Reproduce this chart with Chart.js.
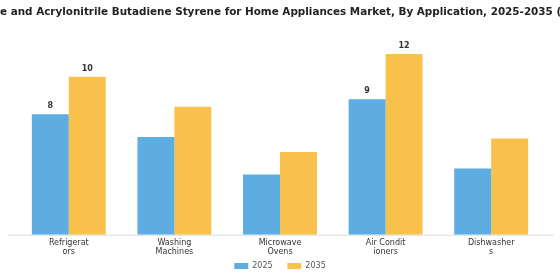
<!DOCTYPE html>
<html>
<head>
<meta charset="utf-8">
<title>Home Appliances Market</title>
<script src="https://cdn.jsdelivr.net/npm/chart.js@4.4.0/dist/chart.umd.min.js"></script>
<style>
	html, body { margin: 0; padding: 0; background: #ffffff; }
	#wrap { width: 560px; height: 280px; }
</style>
</head>
<body>
<div id="wrap"><canvas id="myChart"></canvas></div>
<script>
// dane
const chartTitle = 'Polycarbonate and Acrylonitrile Butadiene Styrene for Home Appliances Market, By Application, 2025-2035 (USD Billion)';
const categories = [['Refrigerat', 'ors'], ['Washing', 'Machines'], ['Microwave', 'Ovens'], ['Air Condit', 'ioners'], ['Dishwasher', 's']];
const values2025 = [8.0, 6.5, 4.0, 9.0, 4.4];
const values2035 = [10.5, 8.5, 5.5, 12.0, 6.4];
const labels2025 = ['8', null, null, '9', null];
const labels2035 = ['10', null, null, '12', null];

// tytuł rysowany ręcznie (wbudowany tytuł ściska tekst do szerokości),
// wychodzi poza lewą i prawą krawędź jak w oryginale
const overflowTitle = {
	id: 'overflowTitle',
	afterDraw(chart) {
		const ctx = chart.ctx;
		ctx.save();
		ctx.font = 'bold 10.4px "DejaVu Sans"';
		ctx.fillStyle = '#222222';
		ctx.textAlign = 'left';
		ctx.textBaseline = 'middle';
		const cut = ctx.measureText('Polycarbonat').width;
		ctx.fillText(chartTitle, -cut, 12);
		ctx.restore();
	}
};

// linia osi X, trochę szersza niż obszar wykresu
const baseLine = {
	id: 'baseLine',
	beforeDatasetsDraw(chart) {
		const ctx = chart.ctx;
		const y = chart.chartArea.bottom + 0.5;
		ctx.save();
		ctx.strokeStyle = '#dddddd';
		ctx.lineWidth = 1;
		ctx.beginPath();
		ctx.moveTo(8, y);
		ctx.lineTo(chart.width - 6, y);
		ctx.stroke();
		ctx.restore();
	}
};

// etykiety wartości nad wybranymi słupkami
const valueLabels = {
	id: 'valueLabels',
	afterDatasetsDraw(chart) {
		const ctx = chart.ctx;
		const sets = [labels2025, labels2035];
		ctx.save();
		ctx.font = 'bold 8px "DejaVu Sans"';
		ctx.fillStyle = '#333333';
		ctx.textAlign = 'center';
		ctx.textBaseline = 'bottom';
		sets.forEach((lbls, d) => {
			chart.getDatasetMeta(d).data.forEach((bar, i) => {
				if (lbls[i] == null) return;
				ctx.fillText(lbls[i], bar.x, bar.y - 4);
			});
		});
		ctx.restore();
	}
};

var ctx = document.getElementById('myChart').getContext('2d');
var chart = new Chart(ctx, {
	type: 'bar',
	data: {
		labels: categories,
		datasets: [{
			label: '2025',
			data: values2025,
			backgroundColor: '#5DADE2'
		}, {
			label: '2035',
			data: values2035,
			backgroundColor: '#F7C14B'
		}]
	},
	options: {
		responsive: true,
		maintainAspectRatio: false,
		animation: false,
		layout: { padding: { left: 16, right: 16, top: 24, bottom: 0 } },
		datasets: { bar: { categoryPercentage: 0.7, barPercentage: 1.0 } },
		plugins: {
			title: { display: false },
			legend: {
				position: 'bottom',
				labels: {
					boxWidth: 14,
					boxHeight: 6,
					font: { family: '"DejaVu Sans"', size: 8 },
					color: '#555555',
					padding: 2,
					// większy odstęp między pozycjami legendy
					generateLabels(chart) {
						const items = Chart.defaults.plugins.legend.labels.generateLabels(chart);
						items[0].text = items[0].text + '     ';
						return items;
					}
				}
			},
			tooltip: { enabled: false }
		},
		scales: {
			x: {
				grid: { display: false, drawTicks: false },
				border: { display: false },
				ticks: {
					font: { family: '"DejaVu Sans"', size: 8 },
					color: '#333333',
					maxRotation: 0,
					autoSkip: false,
					padding: 3
				}
			},
			y: {
				display: false,
				min: 0,
				max: 14
			}
		}
	},
	plugins: [baseLine, valueLabels, overflowTitle]
});
</script>
</body>
</html>
